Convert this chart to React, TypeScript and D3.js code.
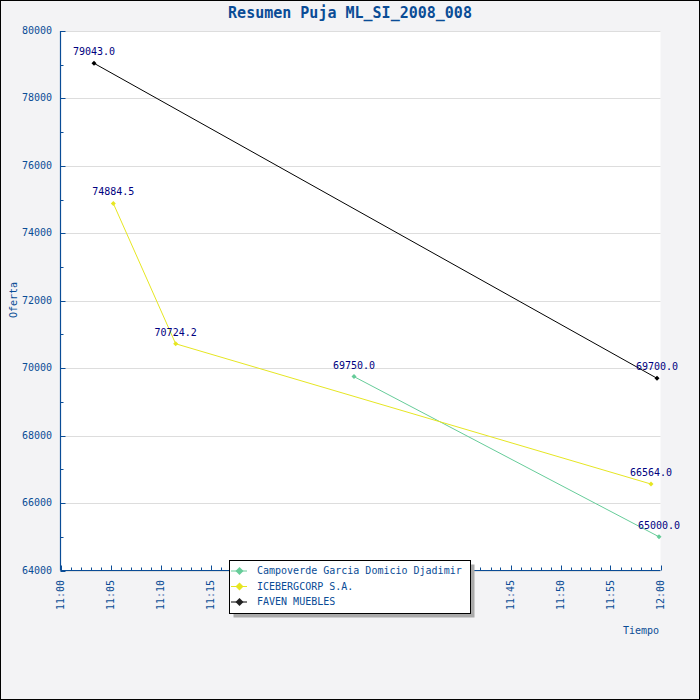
import React from "react";
import * as d3 from "d3";

const TITLE = "Resumen Puja ML_SI_2008_008";
const seriesNames = ["Campoverde Garcia Domicio Djadimir", "ICEBERGCORP S.A.", "FAVEN MUEBLES"];
const seriesColors = ["#66CC99", "#E6E622", "#000000"];
const campoverdeTimes = ["11:29:21", "11:59:51"];
const campoverdeValues = [69750.0, 65000.0];
const icebergTimes = ["11:05:17", "11:11:31", "11:59:03"];
const icebergValues = [74884.5, 70724.2, 66564.0];
const favenTimes = ["11:03:21", "11:59:39"];
const favenValues = [79043.0, 69700.0];
const yTicks = [64000, 66000, 68000, 70000, 72000, 74000, 76000, 78000, 80000];
const xTickLabels = ["11:00", "11:05", "11:10", "11:15", "11:20", "11:25", "11:30", "11:35", "11:40", "11:45", "11:50", "11:55", "12:00"];

const W = 700, H = 700;
const L = 60.5, R = 660.5, T = 31, B = 570.5;
const BLUE = "#0A4C96";
const FONT = "'DejaVu Sans Mono', monospace";

export default function App() {
  const parse = d3.timeParse("%H:%M:%S");
  const parseHM = d3.timeParse("%H:%M");
  const x = d3.scaleTime().domain([parseHM("11:00")!, parseHM("12:00")!]).range([L, R]);
  const y = d3.scaleLinear().domain([64000, 80000]).range([B, T]);

  const series = [
    { times: campoverdeTimes, values: campoverdeValues },
    { times: icebergTimes, values: icebergValues },
    { times: favenTimes, values: favenValues },
  ].map((s, i) => ({
    name: seriesNames[i],
    color: seriesColors[i],
    pts: s.times.map((t, j) => ({ x: x(parse(t)!), y: y(s.values[j]), v: s.values[j] })),
  }));

  const line = d3.line<{ x: number; y: number }>().x(d => d.x).y(d => d.y);
  const minuteTicks = x.ticks(d3.timeMinute.every(1)!);
  const minorY = d3.range(64000, 80001, 1000);

  const diamond = (cx: number, cy: number, r: number) =>
    `M${cx},${cy - r}L${cx + r},${cy}L${cx},${cy + r}L${cx - r},${cy}Z`;

  const legX = 229.5, legY = 560.5, legW = 241, legH = 53;

  return (
    <svg width={W} height={H} style={{ position: "absolute", left: 0, top: 0, display: "block" }} fontFamily={FONT}>
      <rect x={0.5} y={0.5} width={W - 1} height={H - 1} fill="#F3F3F5" stroke="#000" strokeWidth={1} />
      <rect x={L} y={T} width={R - L} height={B - T} fill="#fff" />
      <text x={350} y={13} textAnchor="middle" dominantBaseline="middle" fontSize={15} fontWeight="bold" fill={BLUE}>{TITLE}</text>

      {yTicks.map(v => (
        <line key={"g" + v} x1={L} x2={R} y1={Math.round(y(v)) + 0.5} y2={Math.round(y(v)) + 0.5} stroke="#DDDDDD" strokeWidth={1} />
      ))}

      {/* y axis */}
      <line x1={L} x2={L} y1={T} y2={B} stroke={BLUE} strokeWidth={1.2} />
      {minorY.map(v => {
        const major = v % 2000 === 0;
        const yy = Math.round(y(v)) + 0.5;
        return <line key={"yt" + v} x1={L} x2={L + (major ? 5 : 3)} y1={yy} y2={yy} stroke={BLUE} strokeWidth={1} />;
      })}
      {yTicks.map(v => (
        <text key={"yl" + v} x={52} y={y(v)} textAnchor="end" dominantBaseline="middle" fontSize={10} fill={BLUE}>{v}</text>
      ))}
      <text transform={`translate(14,300) rotate(-90)`} textAnchor="middle" dominantBaseline="middle" fontSize={10} fill={BLUE}>Oferta</text>

      {/* x axis */}
      <line x1={L} x2={R} y1={B} y2={B} stroke={BLUE} strokeWidth={1.2} />
      {minuteTicks.map((t, i) => {
        const major = t.getMinutes() % 5 === 0;
        const xx = Math.round(x(t)) + 0.5;
        return <line key={"xt" + i} x1={xx} x2={xx} y1={B} y2={B - (major ? 5 : 3)} stroke={BLUE} strokeWidth={1} />;
      })}
      {xTickLabels.map(lbl => {
        const xx = x(parseHM(lbl)!);
        return (
          <text key={"xl" + lbl} transform={`translate(${xx},580) rotate(-90)`} textAnchor="end" dominantBaseline="middle" fontSize={10} fill={BLUE}>{lbl}</text>
        );
      })}
      <text x={659} y={631} textAnchor="end" dominantBaseline="middle" fontSize={10} fill={BLUE}>Tiempo</text>

      {/* series */}
      {series.map(s => (
        <g key={s.name}>
          <path d={line(s.pts) || ""} fill="none" stroke={s.color} strokeWidth={1} />
          {s.pts.map((p, j) => (
            <path key={j} d={diamond(p.x, p.y, 2.5)} fill={s.color} />
          ))}
        </g>
      ))}
      {series.map(s => s.pts.map((p, j) => (
        <text key={s.name + "l" + j} x={p.x} y={p.y - 11} textAnchor="middle" dominantBaseline="middle" fontSize={10} fill="#000080">{p.v.toFixed(1)}</text>
      )))}

      {/* legend */}
      <rect x={legX + 4} y={legY + 4} width={legW} height={legH} fill="#AAAAAA" />
      <rect x={legX} y={legY} width={legW} height={legH} fill="#fff" stroke="#000" strokeWidth={1} />
      {series.map((s, i) => {
        const yy = 571 + i * 15.5;
        return (
          <g key={"leg" + i}>
            <line x1={231} x2={247} y1={yy} y2={yy} stroke={s.color} strokeWidth={1} />
            <path d={diamond(239.5, yy, 4)} fill={s.color === "#000000" ? "#222" : s.color} />
            <text x={257} y={yy} dominantBaseline="middle" fontSize={10} fill={BLUE}>{s.name}</text>
          </g>
        );
      })}
    </svg>
  );
}
